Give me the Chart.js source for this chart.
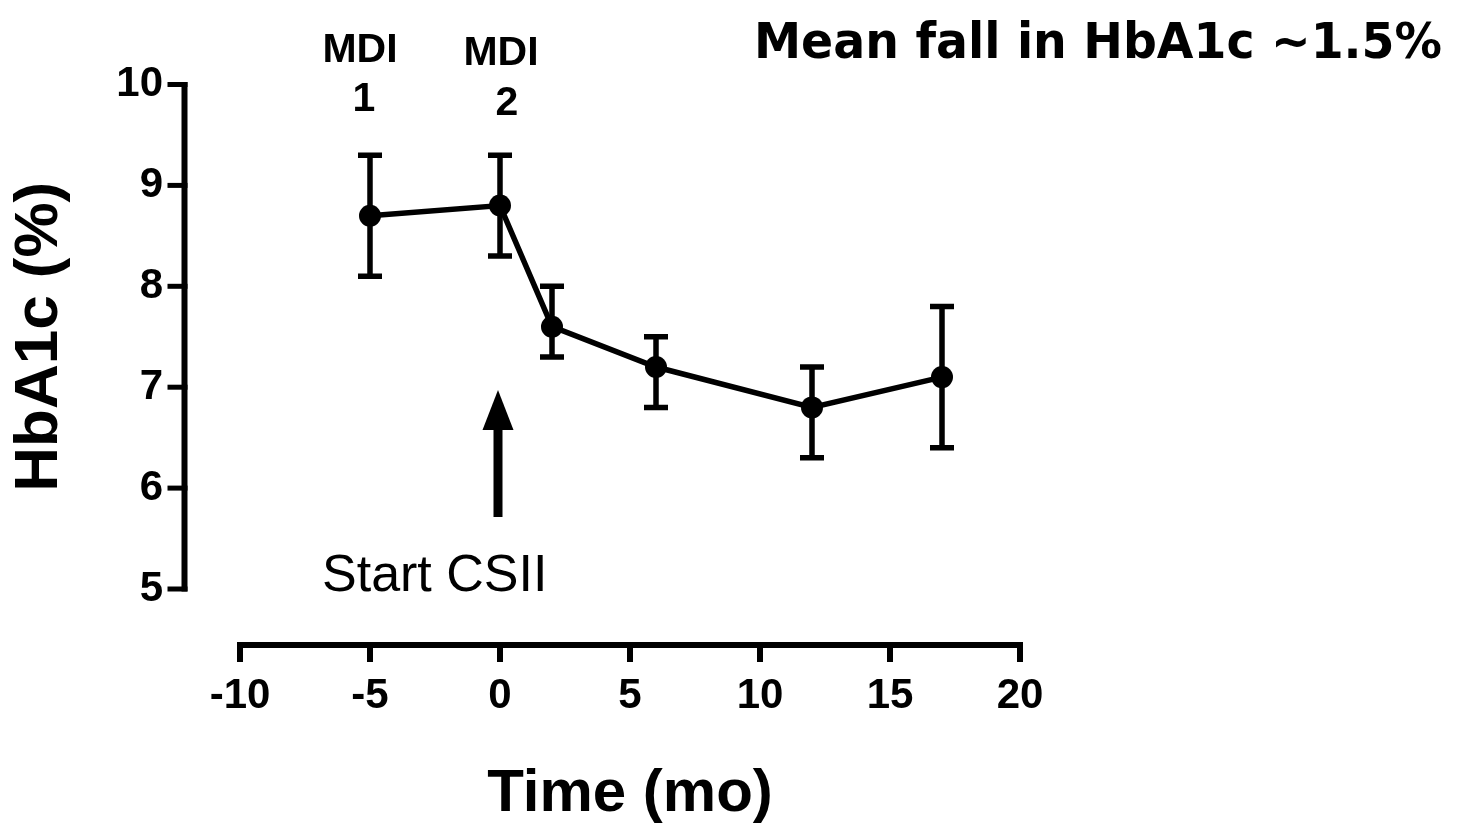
<!DOCTYPE html>
<html>
<head>
<meta charset="utf-8">
<script src="https://cdn.jsdelivr.net/npm/chart.js@4/dist/chart.umd.min.js"></script>
<style>
  html, body { margin: 0; padding: 0; background: #fff; }
  #wrap { width: 1462px; height: 827px; }
</style>
</head>
<body>
<div id="wrap"><canvas id="c" width="1462" height="827"></canvas></div>
<script>
// ---- data ----
const months   = [-5, 0, 2, 6, 12, 17];
const hba1c    = [8.7, 8.8, 7.6, 7.2, 6.8, 7.1];
const errLow   = [8.1, 8.3, 7.3, 6.8, 6.3, 6.4];
const errHigh  = [9.3, 9.3, 8.0, 7.5, 7.2, 7.8];
const xTicks   = [-10, -5, 0, 5, 10, 15, 20];
const yTicks   = [5, 6, 7, 8, 9, 10];
const xTitle   = 'Time (mo)';
const yTitle   = 'HbA1c (%)';
const headline = 'Mean fall in HbA1c ~1.5%';
const mdiLabels = [['MDI', '1'], ['MDI', '2']];
const arrowText = 'Start CSII';

const points = months.map((m, i) => ({ x: m, y: hba1c[i] }));
const SANS = "'Liberation Sans', Arial, sans-serif";

const errorBars = {
  id: 'errorBars',
  beforeDatasetsDraw(chart) {
    const { ctx, scales: { x, y } } = chart;
    ctx.save();
    ctx.strokeStyle = '#000';
    ctx.lineWidth = 5.5;
    ctx.lineCap = 'butt';
    months.forEach((m, i) => {
      const px = x.getPixelForValue(m);
      const yt = y.getPixelForValue(errHigh[i]);
      const yb = y.getPixelForValue(errLow[i]);
      ctx.beginPath();
      ctx.moveTo(px, yt); ctx.lineTo(px, yb);
      ctx.moveTo(px - 12, yt); ctx.lineTo(px + 12, yt);
      ctx.moveTo(px - 12, yb); ctx.lineTo(px + 12, yb);
      ctx.stroke();
    });
    ctx.restore();
  }
};

const offsetAxes = {
  id: 'offsetAxes',
  afterDraw(chart) {
    const { ctx, scales: { x, y }, chartArea } = chart;
    ctx.save();
    ctx.strokeStyle = '#000';
    ctx.lineCap = 'butt';
    // y axis (offset left)
    const ax = chartArea.left - 55.5;
    const yTop = y.getPixelForValue(10), yBot = y.getPixelForValue(5);
    ctx.lineWidth = 6;
    ctx.beginPath();
    ctx.moveTo(ax, yTop - 2.5); ctx.lineTo(ax, yBot + 2.5);
    ctx.stroke();
    ctx.lineWidth = 5;
    yTicks.forEach(v => {
      const py = y.getPixelForValue(v);
      ctx.beginPath(); ctx.moveTo(ax - 17, py); ctx.lineTo(ax + 3, py); ctx.stroke();
    });
    // x axis (offset below)
    const ay = chartArea.bottom + 56;
    const xL = x.getPixelForValue(-10), xR = x.getPixelForValue(20);
    ctx.lineWidth = 6;
    ctx.beginPath(); ctx.moveTo(xL - 3, ay); ctx.lineTo(xR + 3, ay); ctx.stroke();
    xTicks.forEach(v => {
      const px = x.getPixelForValue(v);
      ctx.beginPath(); ctx.moveTo(px, ay - 3); ctx.lineTo(px, ay + 17); ctx.stroke();
    });

    // annotations
    ctx.fillStyle = '#000';
    ctx.textAlign = 'center';
    ctx.textBaseline = 'alphabetic';
    ctx.font = 'bold 41px ' + SANS;
    ctx.fillText(mdiLabels[0][0], 360, 62);
    ctx.fillText(mdiLabels[0][1], 364, 111);
    ctx.fillText(mdiLabels[1][0], 501, 65);
    ctx.fillText(mdiLabels[1][1], 507, 115);

    // arrow
    const arX = x.getPixelForValue(0) - 2;
    ctx.lineWidth = 9;
    ctx.beginPath(); ctx.moveTo(arX, 517); ctx.lineTo(arX, 425); ctx.stroke();
    ctx.beginPath();
    ctx.moveTo(arX, 390); ctx.lineTo(arX + 15.5, 430); ctx.lineTo(arX - 15.5, 430); ctx.closePath();
    ctx.fill();

    ctx.font = '52px ' + SANS;
    ctx.textAlign = 'left';
    ctx.fillText(arrowText, 322, 591);

    // headline, fitted to width
    ctx.font = "bold 50px 'Comic Sans MS', 'DejaVu Sans', sans-serif";
    const w = ctx.measureText(headline).width;
    const target = 688;
    ctx.save();
    ctx.translate(1442, 58);
    ctx.scale(target / w, 1);
    ctx.textAlign = 'right';
    ctx.fillText(headline, 0, 0);
    ctx.restore();
    ctx.restore();
  }
};

new Chart(document.getElementById('c'), {
  type: 'scatter',
  data: {
    datasets: [{
      data: points,
      showLine: true,
      borderColor: '#000',
      borderWidth: 5.5,
      backgroundColor: '#000',
      pointBackgroundColor: '#000',
      pointBorderWidth: 0,
      pointRadius: 11,
      pointHoverRadius: 11,
      tension: 0,
      clip: false
    }]
  },
  options: {
    responsive: false,
    animation: false,
    events: [],
    layout: { padding: { left: 0, top: 84.5, right: 442, bottom: 0 } },
    plugins: { legend: { display: false }, tooltip: { enabled: false } },
    scales: {
      x: {
        type: 'linear', min: -10, max: 20,
        afterFit(s) { s.height = 827 - 589; s.paddingLeft = 0; s.paddingRight = 0; },
        afterBuildTicks(s) { s.ticks = xTicks.map(v => ({ value: v })); },
        grid: { display: false }, border: { display: false },
        ticks: { color: '#000', padding: 74, font: { family: SANS, size: 42, weight: 'bold' } },
        title: { display: true, text: xTitle, color: '#000',
                 font: { family: SANS, size: 60, weight: 'bold', lineHeight: 1 },
                 padding: { top: 0, bottom: 3 } }
      },
      y: {
        type: 'linear', min: 5, max: 10,
        afterFit(s) { s.width = 240; s.paddingTop = 0; s.paddingBottom = 0; },
        afterBuildTicks(s) { s.ticks = yTicks.map(v => ({ value: v })); },
        grid: { display: false }, border: { display: false },
        ticks: { color: '#000', padding: 69, font: { family: SANS, size: 42, weight: 'bold' } },
        title: { display: true, text: yTitle, color: '#000',
                 font: { family: SANS, size: 62, weight: 'bold', lineHeight: 1 },
                 padding: { top: 9, bottom: 0 } }
      }
    }
  },
  plugins: [errorBars, offsetAxes]
});
</script>
</body>
</html>
